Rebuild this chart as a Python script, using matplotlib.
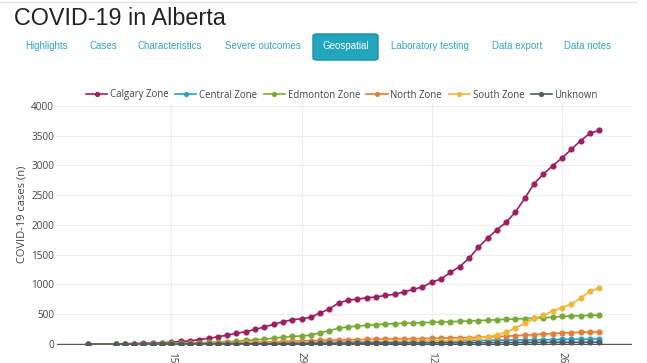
import numpy as np
import pandas as pd
import matplotlib
matplotlib.use("Agg")
import matplotlib.pyplot as plt
import matplotlib.dates as mdates
from matplotlib.patches import FancyBboxPatch
from matplotlib.lines import Line2D

# report dates (first case on Mar 6, then daily from Mar 9)
dates = [pd.Timestamp("2020-03-06")] + list(pd.date_range("2020-03-09", "2020-04-30"))

calgary = [1, 3, 5, 8, 12, 17, 22, 30, 44, 50, 75, 95, 120, 150, 180, 206, 245, 285, 330, 374, 407, 425, 448, 522,
           590, 692, 734, 756, 776, 790, 816, 835, 874, 918, 958, 1040, 1092, 1204, 1299, 1439, 1624, 1775, 1922, 2044,
           2218, 2448, 2693, 2856, 2996, 3125, 3270, 3415, 3540, 3590]
central = [0, 0, 0, 0, 1, 1, 2, 3, 4, 5, 6, 7, 8, 10, 11, 13, 15, 16, 18, 20, 22, 24, 25, 27,
           28, 30, 31, 33, 34, 36, 38, 39, 41, 43, 45, 47, 49, 52, 54, 57, 59, 61, 63, 65,
           67, 69, 70, 72, 74, 76, 78, 80, 82, 84]
edmonton = [0, 0, 1, 3, 5, 7, 9, 12, 15, 18, 22, 27, 33, 38, 44, 60, 70, 80, 100, 112, 128, 135, 148, 190,
            225, 265, 288, 300, 314, 325, 335, 342, 348, 354, 359, 364, 369, 375, 381, 387, 393, 400, 408, 415,
            421, 427, 434, 441, 452, 463, 470, 476, 482, 487]
north = [0, 0, 0, 1, 2, 3, 4, 5, 7, 9, 11, 13, 15, 18, 21, 25, 29, 33, 38, 43, 48, 52, 56, 60,
         64, 68, 71, 74, 77, 80, 83, 86, 88, 90, 92, 95, 98, 101, 104, 108, 112, 118, 125, 132,
         140, 149, 158, 166, 176, 185, 190, 196, 200, 203]
south = [0, 0, 0, 0, 1, 1, 2, 2, 3, 3, 4, 5, 6, 7, 8, 9, 10, 11, 12, 13, 14, 15, 16, 17,
         18, 19, 20, 21, 23, 25, 27, 29, 31, 34, 37, 40, 47, 55, 64, 78, 98, 122, 150, 200,
         270, 345, 432, 480, 554, 610, 670, 770, 885, 941]
unknown = [0, 0, 0, 0, 0, 0, 0, 0, 1, 1, 1, 2, 2, 3, 3, 4, 5, 5, 6, 7, 7, 8, 9, 10,
           11, 12, 12, 13, 14, 15, 15, 16, 17, 18, 18, 19, 20, 20, 21, 22, 22, 23, 24, 24,
           25, 26, 26, 27, 28, 28, 29, 29, 30, 30]

zones = ["Calgary Zone", "Central Zone", "Edmonton Zone", "North Zone", "South Zone", "Unknown"]
series = [calgary, central, edmonton, north, south, unknown]
colors = ["#9c1f63", "#2a9fc4", "#78ab35", "#e2803a", "#efb63a", "#4e5c66"]

tick_dates = ["2020-03-15", "2020-03-29", "2020-04-12", "2020-04-26"]
tabs = ["Highlights", "Cases", "Characteristics", "Severe outcomes", "Geospatial",
        "Laboratory testing", "Data export", "Data notes"]
tab_x = [25, 89, 138, 225, 346, 391, 492, 564]

W, H = 647, 363
plt.rcParams["font.family"] = ["Open Sans", "DejaVu Sans"]

fig = plt.figure(figsize=(W / 100, H / 100), dpi=100)
fig.patch.set_facecolor("white")

# page header
fig.add_artist(Line2D([0, 636 / W], [1 - 2 / H] * 2, color="#e2e2e2", lw=1))
fig.text(14 / W, 1 - 25 / H, "COVID-19 in Alberta", fontsize=16.8, color="#222222",
         family="Liberation Sans", va="baseline")
fig.add_artist(FancyBboxPatch((313 / W, 1 - 60 / H), 65 / W, 26 / H,
                              boxstyle="round,pad=0,rounding_size=0.006",
                              transform=fig.transFigure, facecolor="#22a5bd",
                              edgecolor="#178fa5", lw=1))
for name, x in zip(tabs, tab_x):
    if name == "Geospatial":
        fig.text(x / W, 1 - 46 / H, name, fontsize=7, color="white",
                 family="Liberation Sans", ha="center", va="center")
    else:
        fig.text(x / W, 1 - 46 / H, name, fontsize=7, color="#35a6bf",
                 family="Liberation Sans", va="center")

# chart
ax = fig.add_axes([57 / W, 1 - 345 / H, 575 / W, 242 / H])
for vals, name, c in zip(series, zones, colors):
    ax.plot(dates, vals, color=c, lw=1.2, marker="o", markersize=3.4, label=name, zorder=3)

ax.axhline(0, color="#555555", lw=1, zorder=2)
ax.set_ylim(-16.8, 4050)
ax.set_yticks(np.arange(0, 4001, 500))
x15 = mdates.date2num(np.datetime64("2020-03-15"))
x26 = mdates.date2num(np.datetime64("2020-04-26"))
ax.set_xlim(x15 - 12.29, x26 + 7.53)
ax.set_xticks([mdates.date2num(np.datetime64(d)) for d in tick_dates])
ax.xaxis.set_major_formatter(mdates.DateFormatter("%d"))
ax.grid(color="#eeeeee", lw=0.8, zorder=0)
ax.set_axisbelow(True)
for s in ax.spines.values():
    s.set_visible(False)
ax.tick_params(axis="both", length=0, labelsize=7.2, labelcolor="#444444")
ax.tick_params(axis="y", pad=2)
ax.tick_params(axis="x", pad=5)
for lab in ax.get_xticklabels():
    lab.set_rotation(-90)
ax.set_ylabel("COVID-19 cases (n)", fontsize=8, color="#444444", labelpad=0)
ax.yaxis.set_label_coords(-29 / 575, 0.54)

ax.legend(loc="center", bbox_to_anchor=(342 / W, 1 - 95 / H), bbox_transform=fig.transFigure,
          ncol=6, frameon=False, fontsize=6.9, labelcolor="#444444", handlelength=2.2,
          handletextpad=0.3, columnspacing=0.68, borderpad=0, borderaxespad=0, markerscale=0.8)

fig.savefig("out.png", dpi=100)
